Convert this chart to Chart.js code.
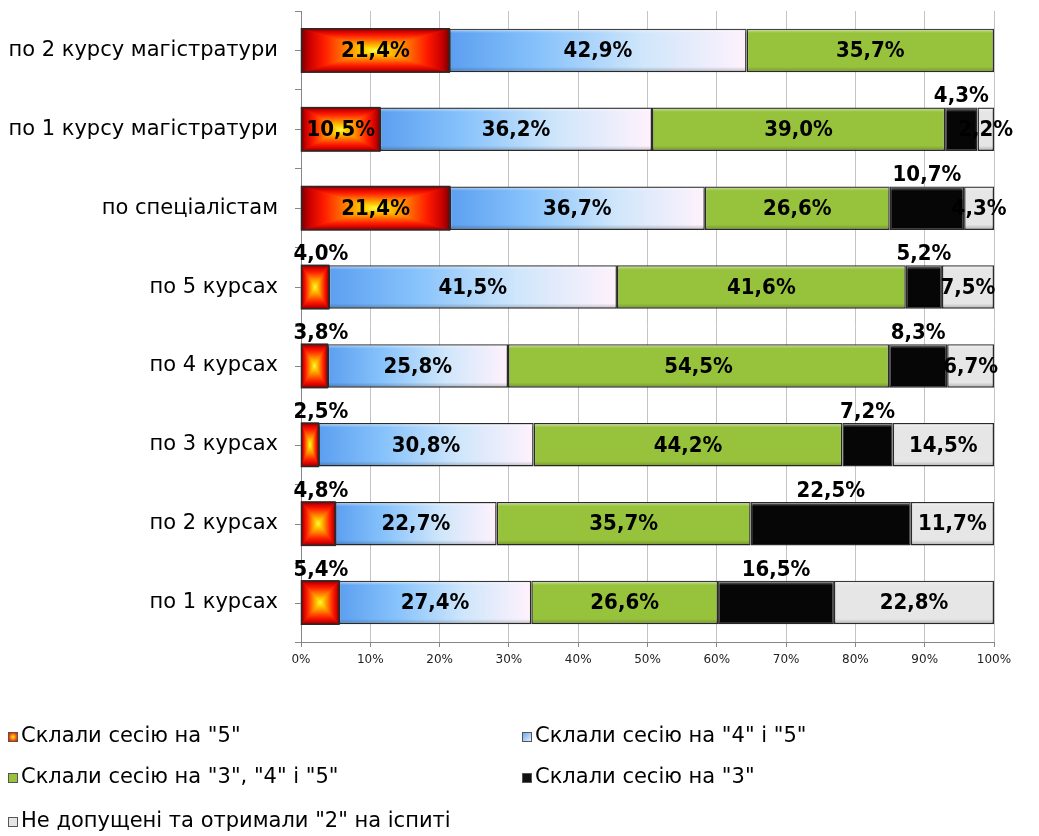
<!DOCTYPE html>
<html>
<head>
<meta charset="utf-8">
<script src="https://cdn.jsdelivr.net/npm/chart.js@4/dist/chart.umd.min.js"></script>
<style>
  html, body { margin: 0; padding: 0; background: #fff; }
  #wrap { width: 1039px; height: 836px; }
</style>
</head>
<body>
<div id="wrap"><canvas id="chart" width="1039" height="836"></canvas></div>
<script>
// categories, top to bottom
const categories = [
    "по 2 курсу магістратури",
    "по 1 курсу магістратури",
    "по спеціалістам",
    "по 5 курсах",
    "по 4 курсах",
    "по 3 курсах",
    "по 2 курсах",
    "по 1 курсах"
];

const seriesNames = [
    "Склали сесію на \"5\"",
    "Склали сесію на \"4\" і \"5\"",
    "Склали сесію на \"3\", \"4\" і \"5\"",
    "Склали сесію на \"3\"",
    "Не допущені та отримали \"2\" на іспиті"
];

// percentages as printed on the bars
const mark5 = [21.4, 10.5, 21.4, 4.0, 3.8, 2.5, 4.8, 5.4];
const mark45 = [42.9, 36.2, 36.7, 41.5, 25.8, 30.8, 22.7, 27.4];
const mark345 = [35.7, 39.0, 26.6, 41.6, 54.5, 44.2, 35.7, 26.6];
const mark3 = [0, 4.3, 10.7, 5.2, 8.3, 7.2, 22.5, 16.5];
const mark2 = [0, 2.2, 4.3, 7.5, 6.7, 14.5, 11.7, 22.8];

const xTicks = [0, 10, 20, 30, 40, 50, 60, 70, 80, 90, 100];

const rawSeries = [mark5, mark45, mark345, mark3, mark2];

// 100% stacked: each row is scaled to its own total
const totals = categories.map((c, i) =>
    rawSeries.reduce((s, arr) => s + arr[i], 0)
);

function share(arr) {
    return arr.map((v, i) => v / totals[i] * 100);
}

const FONT = "'DejaVu Sans', Verdana, sans-serif";
const LABEL_FONT = "bold 22px 'DejaVu Sans Condensed', 'DejaVu Sans', sans-serif";

// edges of a segment, through the x scale
function segmentEdges(chart, d, i) {
    const x = chart.scales.x;
    let before = 0;
    for (let k = 0; k < d; k++) {
        before += chart.data.datasets[k].data[i];
    }
    const after = before + chart.data.datasets[d].data[i];
    return [x.getPixelForValue(before), x.getPixelForValue(after)];
}

function blueFill(context) {
    const chart = context.chart;
    if (!chart.chartArea || context.dataIndex === undefined) return "#8cc4f8";
    const [l, r] = segmentEdges(chart, context.datasetIndex, context.dataIndex);
    const g = chart.ctx.createLinearGradient(l, 0, r, 0);
    g.addColorStop(0, "#5c9ff0");
    g.addColorStop(0.3, "#86c2fb");
    g.addColorStop(0.65, "#cfe6fb");
    g.addColorStop(1, "#fff2fc");
    return g;
}

const redStops = [
    [0, "#7a0000"],
    [0.1, "#c80000"],
    [0.3, "#ff1a00"],
    [0.6, "#ff8000"],
    [0.85, "#ffd200"],
    [1, "#ffff50"]
];

function swatch(ctx, d, x, y, s) {
    const fills = ["#ff6a00", "#a9d0f7", "#97c23c", "#111", "#e6e6e6"];
    if (d === 0) {
        const g = ctx.createRadialGradient(x + s / 2, y + s / 2, 0, x + s / 2, y + s / 2, s * 0.7);
        g.addColorStop(0, "#ffee30");
        g.addColorStop(0.5, "#ff5000");
        g.addColorStop(1, "#b00000");
        ctx.fillStyle = g;
    } else if (d === 1) {
        const g = ctx.createLinearGradient(x, y, x + s, y + s);
        g.addColorStop(0, "#5c9ff0");
        g.addColorStop(1, "#f2f8ff");
        ctx.fillStyle = g;
    } else {
        ctx.fillStyle = fills[d];
    }
    ctx.fillRect(x, y, s, s);
    ctx.strokeStyle = "#555";
    ctx.lineWidth = 1;
    ctx.strokeRect(x + 0.5, y + 0.5, s - 1, s - 1);
}

// red segments: rectangle gradient from the centre out (four triangles)
const glowPlugin = {
    id: "glow",
    afterDatasetDraw(chart, args) {
        if (args.index !== 0) return;
        const ctx = chart.ctx;
        args.meta.data.forEach(el => {
            const p = el.getProps(["x", "y", "base", "height"], true);
            const x0 = Math.min(p.base, p.x), x1 = Math.max(p.base, p.x);
            const y0 = p.y - p.height / 2, y1 = p.y + p.height / 2;
            const xc = (x0 + x1) / 2, yc = p.y;
            if (x1 - x0 <= 0) return;
            const parts = [
                [[x0, y0], [x1, y0], [x0, y0, x0, yc]],
                [[x1, y1], [x0, y1], [x0, y1, x0, yc]],
                [[x0, y1], [x0, y0], [x0, y0, xc, y0]],
                [[x1, y0], [x1, y1], [x1, y0, xc, y0]]
            ];
            ctx.save();
            parts.forEach(([a, b, gl]) => {
                const g = ctx.createLinearGradient(gl[0], gl[1], gl[2], gl[3]);
                redStops.forEach(s => g.addColorStop(s[0], s[1]));
                ctx.fillStyle = g;
                ctx.beginPath();
                ctx.moveTo(a[0], a[1]);
                ctx.lineTo(b[0], b[1]);
                ctx.lineTo(xc, yc);
                ctx.closePath();
                ctx.fill();
                ctx.strokeStyle = g;
                ctx.lineWidth = 0.6;
                ctx.stroke();
            });
            ctx.strokeStyle = "#2a2a2a";
            ctx.lineWidth = 1.5;
            ctx.strokeRect(x0, y0, x1 - x0, y1 - y0);
            ctx.restore();
        });
    }
};

// soft bevel on every bar, then the value labels
const labelPlugin = {
    id: "labels",
    afterDatasetsDraw(chart) {
        const ctx = chart.ctx;
        chart.data.datasets.forEach((ds, d) => {
            if (d === 0) return;
            chart.getDatasetMeta(d).data.forEach(el => {
                const p = el.getProps(["x", "y", "base", "height"], true);
                const x0 = Math.min(p.base, p.x), x1 = Math.max(p.base, p.x);
                const w = x1 - x0, h = p.height, top = p.y - h / 2;
                if (w <= 0.5) return;
                ctx.save();
                const g = ctx.createLinearGradient(0, top, 0, top + h);
                g.addColorStop(0, "rgba(255,255,255,0.55)");
                g.addColorStop(0.1, "rgba(255,255,255,0)");
                g.addColorStop(0.88, "rgba(0,0,0,0)");
                g.addColorStop(1, "rgba(0,0,0,0.25)");
                ctx.fillStyle = g;
                ctx.fillRect(x0 + 1, top + 1, w - 2, h - 2);
                ctx.restore();
            });
        });

        ctx.save();
        ctx.font = LABEL_FONT;
        ctx.fillStyle = "#000";
        ctx.textBaseline = "middle";
        ctx.textAlign = "center";
        chart.data.datasets.forEach((ds, d) => {
            chart.getDatasetMeta(d).data.forEach((el, i) => {
                const raw = rawSeries[d][i];
                if (!raw) return;
                const text = raw.toFixed(1).replace(".", ",") + "%";
                const tw = ctx.measureText(text).width;
                const p = el.getProps(["x", "y", "base", "height"], true);
                const x0 = Math.min(p.base, p.x), x1 = Math.max(p.base, p.x);
                const cx = (x0 + x1) / 2;
                const top = p.y - p.height / 2;
                const outside = d === 3 || (d === 0 && x1 - x0 < tw + 4);
                if (outside) {
                    let tx = cx;
                    if (d === 0) tx = Math.max(cx, x0 - 8 + tw / 2);
                    ctx.fillText(text, tx, top - 11);
                } else {
                    ctx.fillText(text, cx, p.y + 1);
                }
            });
        });
        ctx.restore();
    }
};

// y ticks at row centres too, and the legend in two columns
const extrasPlugin = {
    id: "extras",
    afterDraw(chart) {
        const ctx = chart.ctx;
        const y = chart.scales.y;
        const left = chart.chartArea.left;
        ctx.save();
        ctx.strokeStyle = "#868686";
        ctx.lineWidth = 1;
        categories.forEach((c, i) => {
            const py = Math.round(y.getPixelForValue(i)) + 0.5;
            ctx.beginPath();
            ctx.moveTo(left - 6, py);
            ctx.lineTo(left, py);
            ctx.stroke();
        });

        const slots = [[8, 737], [522, 737], [8, 778], [522, 778], [8, 822]];
        ctx.font = "21px " + FONT;
        ctx.textBaseline = "middle";
        ctx.textAlign = "left";
        seriesNames.forEach((name, d) => {
            const [sx, sy] = slots[d];
            swatch(ctx, d, sx, sy - 5, 10);
            ctx.fillStyle = "#000";
            ctx.fillText(name, sx + 13, sy);
        });
        ctx.restore();
    }
};

const barStyle = {
    borderColor: "#2a2a2a",
    borderWidth: 1.5,
    borderSkipped: false,
    barPercentage: 0.55,
    categoryPercentage: 1
};

new Chart(document.getElementById("chart"), {
    type: "bar",
    data: {
        labels: categories,
        datasets: [
            Object.assign({ label: seriesNames[0], data: share(mark5), backgroundColor: "#ff3000" }, barStyle),
            Object.assign({ label: seriesNames[1], data: share(mark45), backgroundColor: blueFill }, barStyle),
            Object.assign({ label: seriesNames[2], data: share(mark345), backgroundColor: "#97c23c" }, barStyle),
            Object.assign({ label: seriesNames[3], data: share(mark3), backgroundColor: "#060606" }, barStyle),
            Object.assign({ label: seriesNames[4], data: share(mark2), backgroundColor: "#e6e6e6" }, barStyle)
        ]
    },
    options: {
        indexAxis: "y",
        responsive: false,
        animation: false,
        layout: { padding: { top: 11, right: 45, bottom: 154, left: 0 } },
        plugins: {
            legend: { display: false },
            tooltip: { enabled: false }
        },
        scales: {
            x: {
                stacked: true,
                min: 0,
                max: 100,
                afterBuildTicks(scale) {
                    scale.ticks = xTicks.map(v => ({ value: v }));
                },
                afterFit(scale) {
                    scale.height = 40;
                    scale.paddingLeft = 0;
                    scale.paddingRight = 0;
                },
                ticks: {
                    callback: v => v + "%",
                    font: { family: FONT, size: 12 },
                    color: "#222",
                    padding: 6
                },
                grid: { color: "#c4c4c4", tickLength: 5, tickColor: "#868686" },
                border: { color: "#868686" }
            },
            y: {
                stacked: true,
                afterFit(scale) {
                    scale.width = 301;
                    scale.paddingTop = 0;
                    scale.paddingBottom = 0;
                },
                ticks: {
                    font: { family: FONT, size: 21 },
                    color: "#000",
                    padding: 17
                },
                grid: { drawOnChartArea: false, tickLength: 6, color: "#868686", offset: true },
                border: { color: "#868686" }
            }
        }
    },
    plugins: [glowPlugin, labelPlugin, extrasPlugin]
});
</script>
</body>
</html>
